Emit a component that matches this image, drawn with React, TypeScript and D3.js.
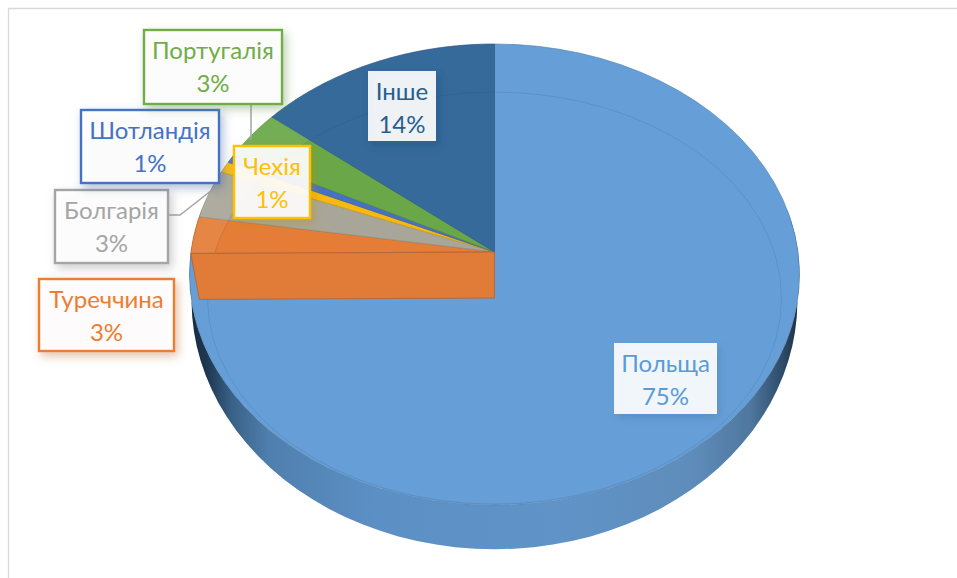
import React from "react";
import * as d3 from "d3";

const categories = ["Польща", "Туреччина", "Болгарія", "Чехія", "Шотландія", "Португалія", "Інше"];
const shares = [74.9, 2.6, 3.4, 0.8, 0.7, 3.4, 14.2];
const sliceColors = ["#669fd7", "#e57d37", "#a8a698", "#f7b90f", "#4472c4", "#69a748", "#366a9b"];
const textColors = ["#5b9bd5", "#ed7d31", "#a5a5a5", "#ffc000", "#4472c4", "#70ad47", "#255e91"];
const hasBorder = [false, true, true, true, true, true, false];
// label box layout: x, y, w, h
const boxes = [
  [614, 343, 103, 71],
  [39, 279, 135, 72],
  [55, 190, 113, 73],
  [234, 146, 76, 72],
  [81, 110, 138, 73],
  [144, 30, 138, 74],
  [368, 71, 68, 70],
];

const W = 957, H = 578;
const CX = 494.5;
const K = 0.0976;

const project = (cy: number, R: number, Ry: number) => (a: number, r = 1): [number, number] => {
  const u = Math.sin(a) * r, v = -Math.cos(a) * r;
  const w = 1 - K * v;
  return [CX + (R * u) / w, cy + (Ry * v) / w];
};
const topRim = project(252, 303.5, 228.3);
const botRim = project(276, 301.5, 246.6);
const cutRim = project(298, 295, 226.5);
const line = d3.line<[number, number]>().x(d => d[0]).y(d => d[1]);
const arcs = d3.pie<number>().sort(null).startAngle(0).endAngle(2 * Math.PI)(shares);
const steps = (a: number, b: number) => d3.range(0, 61).map(i => a + ((b - a) * i) / 60);

const slicePath = (a: number, b: number) =>
  line([topRim(0, 0), ...steps(a, b).map(t => topRim(t))])! + "Z";

const wallPath =
  line([
    ...steps(Math.PI * 0.44, Math.PI * 1.56).map(t => topRim(t)),
    ...steps(Math.PI * 1.56, Math.PI * 0.44).map(t => botRim(t)),
  ])! + "Z";

// cut face of the slice that stands next to the first slice
const cutAngle = arcs[0].endAngle;
const cutPath = line([topRim(0, 0), topRim(cutAngle), cutRim(cutAngle), cutRim(0, 0)])! + "Z";

const wallStops: [number, string][] = [
  [0.0, "#16283c"], [0.03, "#1f3954"], [0.07, "#3a6288"], [0.13, "#4f7fae"], [0.3, "#5c8fc4"],
  [0.6, "#6093c8"], [0.82, "#5f8dbb"], [0.92, "#4f779f"], [0.97, "#2f4d6b"], [1, "#1d3044"],
];

export default function App() {
  return (
    <svg width={W} height={H} style={{ position: "absolute", left: 0, top: 0, background: "#fff" }}
      fontFamily="Lato, 'Noto Sans', sans-serif">
      <defs>
        <linearGradient id="wall" x1="0" x2="1" y1="0" y2="0">
          {wallStops.map(([o, c]) => <stop key={o} offset={o} stopColor={c} />)}
        </linearGradient>
        {textColors.map((c, i) => (
          <filter key={c} id={`sh${i}`} x="-30%" y="-30%" width="170%" height="170%">
            <feDropShadow dx="3" dy="4" stdDeviation="5"
              floodColor={d3.color(c)!.darker(0.8).formatHex()} floodOpacity="0.4" />
          </filter>
        ))}
        <clipPath id="face"><path d={slicePath(0, 2 * Math.PI)} /></clipPath>
        <clipPath id="small"><path d={slicePath(arcs[1].startAngle, arcs[5].endAngle)} /></clipPath>
      </defs>

      <path d={`M8.5 578V8.5H${W}`} fill="none" stroke="#d9d9d9" strokeWidth={1.3} />

      <path d={wallPath} fill="url(#wall)" />
      {arcs.map((d, i) => (
        <path key={categories[i]} d={slicePath(d.startAngle, d.endAngle)} fill={sliceColors[i]}
          stroke={d3.color(sliceColors[i])!.darker(0.5).formatHex()} strokeWidth={0.7} />
      ))}
      <path d={`${slicePath(0, 2 * Math.PI)}M${CX - 287} 298a287 206 0 1 0 574 0a287 206 0 1 0 -574 0Z`}
        fill="#fff" fillOpacity={0.07} fillRule="evenodd" clipPath="url(#small)" />
      <ellipse cx={CX} cy={298} rx={287} ry={206} fill="none" stroke="#1f3f5f"
        strokeOpacity={0.13} strokeWidth={1} clipPath="url(#face)" />
      <path d={cutPath} fill="#e07b38" stroke="#b5683a" strokeWidth={1} />

      <path d="M251 104V140" fill="none" stroke="#a5a5a5" strokeWidth={1.5} />
      <path d="M168 215H180L212 190" fill="none" stroke="#a5a5a5" strokeWidth={1.5} />

      {categories.map((c, i) => {
        const [x, y, w, h] = boxes[i];
        const mid = x + w / 2;
        return (
          <g key={c}>
            <rect x={x} y={y} width={w} height={h} fill="#fff" fillOpacity={0.9} filter={`url(#sh${i})`}
              stroke={hasBorder[i] ? textColors[i] : "none"} strokeWidth={2.4} />
            <text x={mid} y={y + 29} textAnchor="middle" fontSize={24} fill={textColors[i]}>{c}</text>
            <text x={mid} y={y + 62} textAnchor="middle" fontSize={24} fill={textColors[i]}>{Math.round(shares[i])}%</text>
          </g>
        );
      })}
    </svg>
  );
}
